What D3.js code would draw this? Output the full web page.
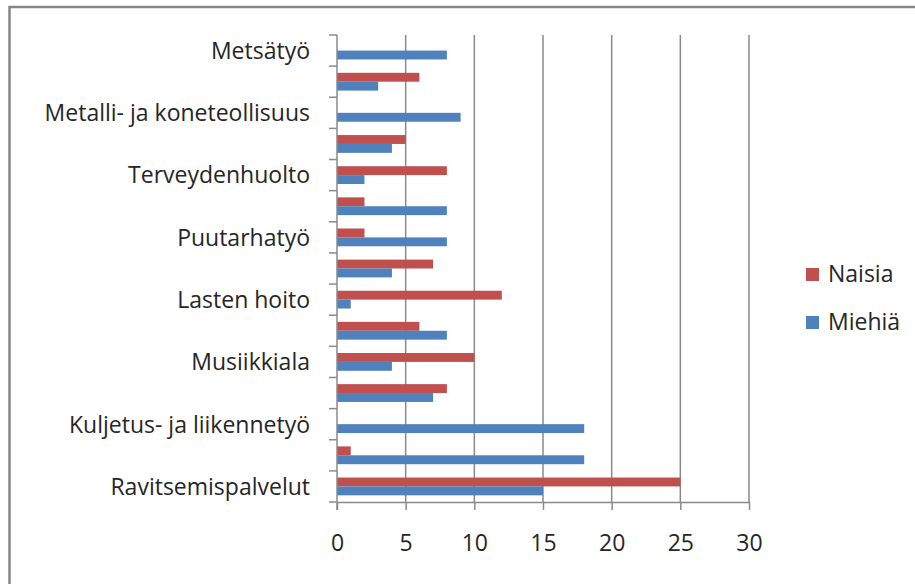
<!DOCTYPE html>
<html>
<head>
<meta charset="utf-8">
<script src="https://cdn.jsdelivr.net/npm/d3@7"></script>
<style>
  body { margin: 0; background: #fff; }
  text { font-family: "Open Sans", sans-serif; fill: #262626; }
</style>
</head>
<body>
<div id="chart"></div>
<script>
// categories top to bottom, "" = label not shown in the original
var categories = ["Metsätyö", "", "Metalli- ja koneteollisuus", "", "Terveydenhuolto", "",
  "Puutarhatyö", "", "Lasten hoito", "", "Musiikkiala", "", "Kuljetus- ja liikennetyö", "", "Ravitsemispalvelut"]
var series = ["Naisia", "Miehiä"]
var naisia = [0, 6, 0, 5, 8, 2, 2, 7, 12, 6, 10, 8, 0, 1, 25]
var miehia = [8, 3, 9, 4, 2, 8, 8, 4, 1, 8, 4, 7, 18, 18, 15]
var xTicks = [0, 5, 10, 15, 20, 25, 30]
var colors = ["#C0504D", "#4F81BD"]

var width = 915, height = 584
var plot = {left: 337, right: 749, top: 35, bottom: 502}
var fontSize = 23
var gridColor = "#8a8a8a"

var svg = d3.select('#chart').append('svg')
  .attr('width', width)
  .attr('height', height)

// outer frame (runs off right and bottom edges)
svg.append('rect')
  .attr('x', 9.5).attr('y', 7)
  .attr('width', 1000).attr('height', 1000)
  .style('fill', 'none')
  .style('stroke', '#878787')
  .style('stroke-width', 2.5)

var x = d3.scaleLinear()
  .domain([0, 30])
  .range([plot.left, plot.right])

var y = d3.scaleBand()
  .domain(d3.range(categories.length))
  .range([plot.top, plot.bottom])
  .padding(0)

var yInner = d3.scaleBand()
  .domain(series)
  .range([0, y.bandwidth()])
  .paddingInner(0)
  .paddingOuter(0.75)

// vertical gridlines
svg.append('g').selectAll('line')
  .data(xTicks.slice(1))
  .enter().append('line')
  .attr('x1', function(d) { return x(d) })
  .attr('x2', function(d) { return x(d) })
  .attr('y1', plot.top)
  .attr('y2', plot.bottom)
  .style('stroke', gridColor)
  .style('stroke-width', 1.5)

// bars
var values = [naisia, miehia]
series.forEach(function(s, k) {
  svg.append('g').selectAll('rect')
    .data(values[k])
    .enter().append('rect')
    .attr('x', x(0))
    .attr('y', function(d, i) { return y(i) + yInner(s) })
    .attr('width', function(d) { return x(d) - x(0) })
    .attr('height', yInner.bandwidth())
    .style('fill', colors[k])
})

// x axis
var xAxis = d3.axisBottom(x).tickValues(xTicks).tickSize(8).tickPadding(25).tickSizeOuter(0)
var gx = svg.append('g')
  .attr('transform', 'translate(0,' + plot.bottom + ')')
  .call(xAxis)
gx.select('.domain').style('stroke', gridColor).style('stroke-width', 1.5)
gx.selectAll('.tick line').style('stroke', gridColor).style('stroke-width', 1.5)
gx.selectAll('text').style('font-size', fontSize + 'px').style('font-family', '"Open Sans", sans-serif').attr('fill', '#262626')

// y axis: labels at band centres, ticks on band boundaries
var yAxis = d3.axisLeft(y).tickSize(0).tickPadding(27).tickFormat(function(i) { return categories[i] })
var gy = svg.append('g')
  .attr('transform', 'translate(' + plot.left + ',1)')
  .call(yAxis)
gy.select('.domain').remove()
gy.selectAll('text').style('font-size', fontSize + 'px').style('font-family', '"Open Sans", sans-serif').attr('fill', '#262626')

svg.append('line')
  .attr('x1', plot.left).attr('x2', plot.left)
  .attr('y1', plot.top).attr('y2', plot.bottom + 8)
  .style('stroke', gridColor).style('stroke-width', 1.5)

svg.append('g').selectAll('line')
  .data(d3.range(categories.length + 1))
  .enter().append('line')
  .attr('x1', plot.left - 8).attr('x2', plot.left)
  .attr('y1', function(i) { return plot.top + i * y.step() })
  .attr('y2', function(i) { return plot.top + i * y.step() })
  .style('stroke', gridColor).style('stroke-width', 1.5)

// legend
var legend = svg.append('g').selectAll('g')
  .data(series)
  .enter().append('g')
  .attr('transform', function(d, i) { return 'translate(806,' + (268 + i * 48) + ')' })
legend.append('rect')
  .attr('width', 13).attr('height', 13)
  .style('fill', function(d, i) { return colors[i] })
legend.append('text')
  .attr('x', 22).attr('y', 14)
  .style('font-size', fontSize + 'px')
  .text(function(d) { return d })
</script>
</body>
</html>
